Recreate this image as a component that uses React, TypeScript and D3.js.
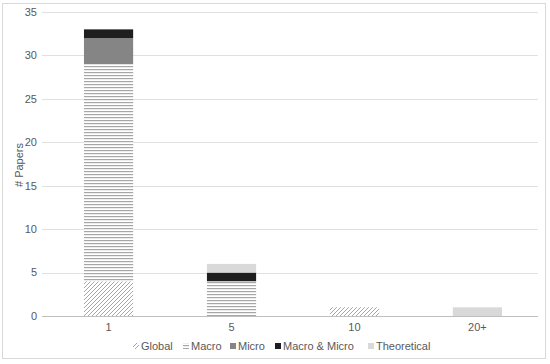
import React from "react";
import * as d3 from "d3";

const categories = ["1", "5", "10", "20+"];
const seriesNames = ["Global", "Macro", "Micro", "Macro & Micro", "Theoretical"];
const globalVals = [4, 0, 1, 0];
const macroVals = [25, 4, 0, 0];
const microVals = [3, 0, 0, 0];
const macroMicroVals = [1, 1, 0, 0];
const theoreticalVals = [0, 1, 0, 1];
const yTicks = [0, 5, 10, 15, 20, 25, 30, 35];

const W = 550;
const H = 364;
const plotLeft = 42;
const plotRight = 538;

const fills = ["url(#pGlobal)", "url(#pMacro)", "#858585", "#1e1e1e", "#d9d9d9"];

export default function App() {
  const rows = categories.map((c, i) => ({
    cat: c,
    Global: globalVals[i],
    Macro: macroVals[i],
    Micro: microVals[i],
    "Macro & Micro": macroMicroVals[i],
    Theoretical: theoreticalVals[i],
  }));
  const stack = d3.stack<any>().keys(seriesNames);
  const layers = stack(rows);
  const x = d3
    .scaleBand()
    .domain(categories)
    .range([44, 542])
    .paddingInner(0.6)
    .paddingOuter(0.325);
  const y = d3.scaleLinear().domain([0, 35]).range([316, 12]);
  const textColor = "#595959";
  const font = "'Liberation Sans', Arial, sans-serif";

  const legendX = [133, 183, 230, 275, 368];

  return (
    <svg
      width={W}
      height={H}
      style={{ position: "absolute", left: 0, top: 0, background: "#fff" }}
      fontFamily={font}
    >
      <defs>
        <pattern id="pGlobal" patternUnits="userSpaceOnUse" width={4} height={4}>
          <rect width={4} height={4} fill="#fff" />
          <path d="M-1,1 l2,-2 M0,4 l4,-4 M3,5 l2,-2" stroke="#a6a6a6" strokeWidth={1} />
        </pattern>
        <pattern id="pMacro" patternUnits="userSpaceOnUse" width={4} height={3}>
          <rect width={4} height={3} fill="#fff" />
          <rect y={0} width={4} height={1.2} fill="#a6a6a6" />
        </pattern>
      </defs>
      <rect x={2.5} y={3.5} width={543} height={355} fill="none" stroke="#d9d9d9" />
      {yTicks.map((t) => (
        <g key={t}>
          <line
            x1={plotLeft}
            x2={plotRight}
            y1={Math.round(y(t)) + 0.5}
            y2={Math.round(y(t)) + 0.5}
            stroke={t === 0 ? "#bfbfbf" : "#e0e0e0"}
          />
          <text
            x={37}
            y={y(t)}
            dy="0.35em"
            textAnchor="end"
            fontSize={11}
            fill={textColor}
          >
            {t}
          </text>
        </g>
      ))}
      {layers.map((layer, li) => (
        <g key={seriesNames[li]} fill={fills[li]}>
          {layer.map((d, i) =>
            d[1] - d[0] > 0 ? (
              <rect
                key={i}
                x={x(categories[i])!}
                width={x.bandwidth()}
                y={y(d[1])}
                height={y(d[0]) - y(d[1])}
              />
            ) : null
          )}
        </g>
      ))}
      {categories.map((c) => (
        <text
          key={c}
          x={x(c)! + x.bandwidth() / 2}
          y={331}
          textAnchor="middle"
          fontSize={11}
          fill={textColor}
        >
          {c}
        </text>
      ))}
      <text
        transform={`translate(23,165) rotate(-90)`}
        textAnchor="middle"
        fontSize={11}
        fill={textColor}
      >
        # Papers
      </text>
      {seriesNames.map((s, i) => (
        <g key={s}>
          <rect x={legendX[i]} y={343} width={6} height={6} fill={fills[i]} />
          <text x={legendX[i] + 8} y={350} fontSize={11} fill={textColor}>
            {s}
          </text>
        </g>
      ))}
    </svg>
  );
}
